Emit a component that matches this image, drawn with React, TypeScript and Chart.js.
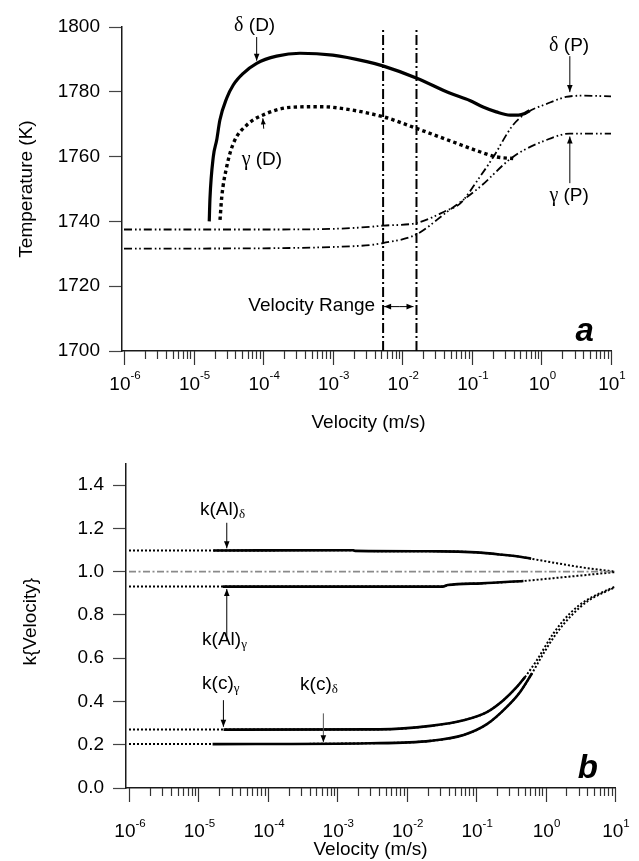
import React, { useEffect, useRef } from 'react';
import { Chart, registerables } from 'chart.js';

Chart.register(...registerables);

const SANS = '"Liberation Sans", Arial, Helvetica, sans-serif';
const SERIF = '"Liberation Serif", "Times New Roman", serif';

const W = 639;
const TOP_H = 436;
const BOT_H = 425;

// ---------- axis ticks ----------
const X_EXPONENTS = [-6, -5, -4, -3, -2, -1, 0, 1];
const X_MANTISSAS = [1, 2, 3, 4, 5, 6, 7, 8, 9];
const X_MAX = 10;
const TEMP_TICK_STEP = 20;
const K_TICK_STEP = 0.2;

// ---------- panel a : temperatures ----------
const deltaDVel = [1.68e-5, 1.72e-5, 1.92e-5, 2.15e-5, 2.39e-5, 2.99e-5, 3.72e-5, 5.18e-5, 8.07e-5, 1.56e-4, 3.38e-4, 1.0e-3, 3.09e-3, 5.25e-3, 1.62e-2, 4.79e-2, 9.33e-2, 0.145, 0.224, 0.355, 0.468, 0.575, 0.676];
const deltaDTemp = [1740, 1747, 1759.9, 1765.1, 1771.3, 1778, 1782.1, 1785.7, 1788.8, 1791, 1791.9, 1791.3, 1789.3, 1788, 1784.2, 1779.6, 1777.3, 1775.3, 1773.8, 1772.8, 1772.8, 1773.3, 1774.2];

const gammaDVel = [2.40e-5, 2.54e-5, 2.99e-5, 3.72e-5, 5.79e-5, 1.12e-4, 2.43e-4, 6.55e-4, 1.02e-3, 5.31e-3, 1.60e-2, 5.40e-2, 0.130, 0.226, 0.393];
const gammaDTemp = [1740.5, 1747.5, 1756.8, 1764, 1769.7, 1773.3, 1775.2, 1775.4, 1775.2, 1772.3, 1768.7, 1764.5, 1761.5, 1759.9, 1759.4];

const deltaPVel = [1e-6, 1e-4, 1e-3, 3.39e-3, 5.3e-3, 1.6e-2, 4.37e-2, 6.76e-2, 0.130, 0.204, 0.389, 0.646, 1.17, 2.24, 3.98, 10];
const deltaPTemp = [1737.5, 1737.5, 1737.7, 1738.3, 1738.7, 1739.5, 1743.4, 1745.5, 1753.7, 1759.9, 1769.7, 1773.8, 1776.2, 1778.4, 1778.8, 1778.6];

const gammaPVel = [1e-6, 1e-4, 1e-3, 3.4e-3, 5.3e-3, 1.6e-2, 4.37e-2, 0.130, 0.389, 1.17, 2.56, 10];
const gammaPTemp = [1731.6, 1731.7, 1732.1, 1732.7, 1733.3, 1736, 1742.9, 1750.6, 1759.9, 1765.1, 1767.1, 1767.1];

const rangeLow = 5.3e-3;
const rangeHigh = 1.6e-2;
const tempBounds = [1700, 1800];

// ---------- panel b : k{Velocity} ----------
const kAlDeltaVel = [1e-6, 1.64e-5, 1.7e-3, 1.8e-3, 3.0e-2, 0.1, 0.24, 0.45, 0.62, 1.46, 3.16, 7.6, 10];
const kAlDeltaVal = [1.098, 1.098, 1.099, 1.096, 1.094, 1.089, 1.078, 1.068, 1.06, 1.039, 1.021, 1.005, 1.0];
const kAlDeltaSolid = [1.64e-5, 0.62];

const kAlGammaVel = [1e-6, 2.24e-5, 3.3e-2, 3.9e-2, 0.12, 0.48, 1.3, 3.16, 10];
const kAlGammaVal = [0.931, 0.931, 0.931, 0.938, 0.946, 0.957, 0.97, 0.982, 0.998];
const kAlGammaSolid = [2.24e-5, 0.48];

const kcGammaVel = [1e-6, 2.3e-5, 4.1e-3, 2.2e-2, 6.6e-2, 0.143, 0.247, 0.386, 0.508, 0.75, 1.3, 2.26, 3.94, 10];
const kcGammaVal = [0.27, 0.27, 0.271, 0.287, 0.313, 0.351, 0.406, 0.467, 0.514, 0.591, 0.715, 0.808, 0.869, 0.931];
const kcGammaSolid = [2.3e-5, 0.508];

const kcDeltaVel = [1e-6, 1.6e-5, 3e-3, 2.2e-2, 6.6e-2, 0.143, 0.277, 0.43, 0.635, 0.85, 1.4, 2.4, 4.1, 10];
const kcDeltaVal = [0.203, 0.203, 0.207, 0.218, 0.245, 0.295, 0.375, 0.444, 0.529, 0.6, 0.71, 0.8, 0.865, 0.928];
const kcDeltaSolid = [1.6e-5, 0.635];

const unityVel = [1e-6, 10];
const unityVal = [1, 1];

// ---------- helpers ----------
const zip = (xs: number[], ys: number[]) => xs.map((x, i) => ({ x, y: ys[i] }));
const part = (xs: number[], ys: number[], r: number[]) => zip(xs, ys).filter((p) => p.x >= r[0] && p.x <= r[1]);

const line = (data: any[], extra: any = {}) => ({
  data,
  showLine: true,
  pointRadius: 0,
  pointHoverRadius: 0,
  borderColor: '#000',
  backgroundColor: '#000',
  fill: false,
  borderCapStyle: 'butt',
  borderJoinStyle: 'round',
  cubicInterpolationMode: 'monotone',
  ...extra,
});

type Part = { t: string; font: string; dy?: number };
function drawParts(ctx: CanvasRenderingContext2D, parts: Part[], x: number, y: number, align: 'left' | 'center' | 'right') {
  let w = 0;
  for (const p of parts) {
    ctx.font = p.font;
    w += ctx.measureText(p.t).width;
  }
  let cx = align === 'center' ? x - w / 2 : align === 'right' ? x - w : x;
  ctx.textAlign = 'left';
  ctx.textBaseline = 'alphabetic';
  for (const p of parts) {
    ctx.font = p.font;
    ctx.fillText(p.t, cx, y + (p.dy || 0));
    cx += ctx.measureText(p.t).width;
  }
}

function drawArrow(ctx: CanvasRenderingContext2D, x1: number, y1: number, x2: number, y2: number, head = 7, half = 2.8) {
  ctx.beginPath();
  ctx.moveTo(x1, y1);
  ctx.lineTo(x2, y2);
  ctx.stroke();
  const a = Math.atan2(y2 - y1, x2 - x1);
  ctx.beginPath();
  ctx.moveTo(x2, y2);
  ctx.lineTo(x2 - head * Math.cos(a) + half * Math.sin(a), y2 - head * Math.sin(a) - half * Math.cos(a));
  ctx.lineTo(x2 - head * Math.cos(a) - half * Math.sin(a), y2 - head * Math.sin(a) + half * Math.cos(a));
  ctx.closePath();
  ctx.fill();
}

function drawLogAxis(chart: any, numOffset: number, expDy: number) {
  const ctx: CanvasRenderingContext2D = chart.ctx;
  const xs = chart.scales.x;
  const yb = chart.chartArea.bottom;
  ctx.save();
  ctx.strokeStyle = '#333';
  ctx.lineWidth = 1.2;
  for (const e of X_EXPONENTS) {
    for (const m of X_MANTISSAS) {
      const v = m * Math.pow(10, e);
      if (v > X_MAX * 1.0001) continue;
      const px = Math.round(xs.getPixelForValue(v)) + 0.5;
      const len = m === 1 ? 14 : 8;
      ctx.beginPath();
      ctx.moveTo(px, yb);
      ctx.lineTo(px, yb + len);
      ctx.stroke();
    }
  }
  ctx.fillStyle = '#000';
  for (const e of X_EXPONENTS) {
    const px = xs.getPixelForValue(Math.pow(10, e));
    drawParts(ctx, [
      { t: '10', font: `19px ${SANS}` },
      { t: String(e), font: `11.5px ${SANS}`, dy: expDy },
    ], px + 1, yb + numOffset, 'center');
  }
  ctx.restore();
}

function drawYTitle(ctx: CanvasRenderingContext2D, text: string, x: number, y: number) {
  ctx.save();
  ctx.translate(x, y);
  ctx.rotate(-Math.PI / 2);
  ctx.font = `19px ${SANS}`;
  ctx.textAlign = 'center';
  ctx.textBaseline = 'middle';
  ctx.fillStyle = '#000';
  ctx.fillText(text, 0, 0);
  ctx.restore();
}

function drawXTitle(ctx: CanvasRenderingContext2D, text: string, x: number, y: number) {
  ctx.save();
  ctx.font = `19px ${SANS}`;
  ctx.textAlign = 'center';
  ctx.textBaseline = 'alphabetic';
  ctx.fillStyle = '#000';
  ctx.fillText(text, x, y);
  ctx.restore();
}

const F19 = `19px ${SANS}`;
const G19 = `20px ${SERIF}`;

const decorTop = {
  id: 'decorTop',
  afterDraw(chart: any) {
    const ctx: CanvasRenderingContext2D = chart.ctx;
    const X = (v: number) => chart.scales.x.getPixelForValue(v);
    const Y = (v: number) => chart.scales.y.getPixelForValue(v);
    const ca = chart.chartArea;
    drawLogAxis(chart, 39, -11.5);
    drawYTitle(ctx, 'Temperature (K)', 27, (ca.top + ca.bottom) / 2);
    drawXTitle(ctx, 'Velocity (m/s)', (ca.left + ca.right) / 2 + 2, 428);

    ctx.save();
    ctx.fillStyle = '#000';
    ctx.strokeStyle = '#000';
    ctx.lineWidth = 1;
    // delta (D)
    drawParts(ctx, [{ t: 'δ', font: G19 }, { t: ' (D)', font: F19 }], X(8.07e-5) - 2, Y(1798.8), 'center');
    drawArrow(ctx, X(8.07e-5), Y(1796.9), X(8.07e-5), Y(1789.6));
    // gamma (D)
    drawParts(ctx, [{ t: 'γ', font: G19 }, { t: ' (D)', font: F19 }], X(9.6e-5), Y(1757.3), 'center');
    drawArrow(ctx, X(1.02e-4), Y(1768.6), X(9.9e-5), Y(1771.8), 6, 2.5);
    // delta (P)
    drawParts(ctx, [{ t: 'δ', font: G19 }, { t: ' (P)', font: F19 }], X(2.5), Y(1792.6), 'center');
    drawArrow(ctx, X(2.56), Y(1791), X(2.56), Y(1779.9));
    // gamma (P)
    drawParts(ctx, [{ t: 'γ', font: G19 }, { t: ' (P)', font: F19 }], X(2.5), Y(1746.2), 'center');
    drawArrow(ctx, X(2.56), Y(1751.8), X(2.56), Y(1766.2));
    // velocity range
    drawParts(ctx, [{ t: 'Velocity Range', font: F19 }], X(rangeLow) - 8, Y(1712.4), 'right');
    const ya = Y(1713.7);
    const xm = (X(rangeLow) + X(rangeHigh)) / 2;
    drawArrow(ctx, xm, ya, X(rangeLow) + 1, ya, 7, 2.8);
    drawArrow(ctx, xm, ya, X(rangeHigh) - 3, ya, 7, 2.8);
    // panel letter
    ctx.font = `bold italic 33px ${SANS}`;
    ctx.textAlign = 'left';
    ctx.textBaseline = 'alphabetic';
    ctx.fillText('a', X(3.1), Y(1703.2));
    ctx.restore();
  },
};

const decorBot = {
  id: 'decorBot',
  afterDraw(chart: any) {
    const ctx: CanvasRenderingContext2D = chart.ctx;
    const X = (v: number) => chart.scales.x.getPixelForValue(v);
    const Y = (v: number) => chart.scales.y.getPixelForValue(v);
    const ca = chart.chartArea;
    drawLogAxis(chart, 49, -10.5);
    drawYTitle(ctx, 'k{Velocity}', 31, (ca.top + ca.bottom) / 2 - 4);
    drawXTitle(ctx, 'Velocity (m/s)', (ca.left + ca.right) / 2, 419);

    ctx.save();
    ctx.fillStyle = '#000';
    ctx.strokeStyle = '#000';
    ctx.lineWidth = 1;
    const sub = (g: string) => ({ t: g, font: `13px ${SERIF}`, dy: 3 });
    drawParts(ctx, [{ t: 'k(Al)', font: F19 }, sub('δ')], X(1.05e-5), Y(1.263), 'left');
    drawArrow(ctx, X(2.56e-5), Y(1.226), X(2.56e-5), Y(1.108));
    drawParts(ctx, [{ t: 'k(Al)', font: F19 }, sub('γ')], X(1.13e-5), Y(0.661), 'left');
    drawArrow(ctx, X(2.56e-5), Y(0.684), X(2.56e-5), Y(0.92));
    drawParts(ctx, [{ t: 'k(c)', font: F19 }, sub('γ')], X(1.13e-5), Y(0.457), 'left');
    drawArrow(ctx, X(2.29e-5), Y(0.406), X(2.29e-5), Y(0.283));
    drawParts(ctx, [{ t: 'k(c)', font: F19 }, sub('δ')], X(2.91e-4), Y(0.452), 'left');
    ctx.strokeStyle = '#555';
    drawArrow(ctx, X(6.3e-4), Y(0.345), X(6.3e-4), Y(0.212));
    ctx.font = `bold italic 33px ${SANS}`;
    ctx.textAlign = 'left';
    ctx.textBaseline = 'alphabetic';
    ctx.fillText('b', X(2.9), Y(0.044));
    ctx.restore();
  },
};

function options(p: any) {
  return {
    responsive: false,
    maintainAspectRatio: false,
    animation: false,
    devicePixelRatio: 1,
    events: [],
    layout: { padding: { left: 0, right: p.right, top: p.top, bottom: 0 } },
    plugins: { legend: { display: false }, tooltip: { enabled: false }, title: { display: false } },
    scales: {
      x: {
        type: 'logarithmic',
        position: 'bottom',
        min: p.xMin,
        max: X_MAX,
        grid: { display: false },
        ticks: { display: false },
        border: { display: true, color: '#1a1a1a', width: 1.5 },
        afterFit: (s: any) => { s.height = p.xHeight; },
      },
      y: {
        type: 'linear',
        position: 'left',
        min: p.yMin,
        max: p.yMax,
        grid: { display: true, drawOnChartArea: false, drawTicks: true, tickLength: 13, tickColor: '#444', tickWidth: 1.2 },
        border: { display: true, color: '#1a1a1a', width: 1.5 },
        ticks: {
          stepSize: p.step,
          padding: 9,
          color: '#000',
          autoSkip: false,
          font: { family: SANS, size: 19 },
          callback: (v: any) => p.fmt(Number(v)),
        },
        afterBuildTicks: (s: any) => { s.ticks = s.ticks.filter((t: any) => t.value <= p.tickMax + 1e-9); },
        afterFit: (s: any) => { s.width = p.yWidth; },
      },
    },
  };
}

function topConfig(): any {
  return {
    type: 'scatter',
    data: {
      datasets: [
        line(zip(deltaDVel, deltaDTemp), { borderWidth: 3.2 }),
        line(zip(gammaDVel, gammaDTemp), { borderWidth: 3.4, borderDash: [3.4, 3.2] }),
        line(zip(deltaPVel, deltaPTemp), { borderWidth: 1.8, borderDash: [8, 3, 1.6, 2.6, 1.6, 3] }),
        line(zip(gammaPVel, gammaPTemp), { borderWidth: 1.8, borderDash: [8, 3, 1.6, 2.6, 1.6, 3] }),
        line(zip([rangeLow, rangeLow], tempBounds), { borderWidth: 2, borderDash: [10, 3, 2, 3], cubicInterpolationMode: 'default', tension: 0 }),
        line(zip([rangeHigh, rangeHigh], tempBounds), { borderWidth: 2, borderDash: [10, 3, 2, 3], cubicInterpolationMode: 'default', tension: 0 }),
      ],
    },
    options: options({
      right: W - 611, top: 27, xHeight: TOP_H - 351, yWidth: 122, xMin: 9.36e-7,
      yMin: tempBounds[0], yMax: tempBounds[1], step: TEMP_TICK_STEP, tickMax: tempBounds[1],
      fmt: (v: number) => String(Math.round(v)),
    }),
    plugins: [decorTop],
  };
}

function botConfig(): any {
  const dotted = { borderWidth: 2, borderDash: [2, 2] };
  const solid = { borderWidth: 2.6 };
  return {
    type: 'scatter',
    data: {
      datasets: [
        line(zip(unityVel, unityVal), { borderWidth: 1.6, borderColor: '#8a8a8a', borderDash: [7, 2.5, 2, 2.5], cubicInterpolationMode: 'default', tension: 0 }),
        line(zip(kAlDeltaVel, kAlDeltaVal), dotted),
        line(part(kAlDeltaVel, kAlDeltaVal, kAlDeltaSolid), solid),
        line(zip(kAlGammaVel, kAlGammaVal), dotted),
        line(part(kAlGammaVel, kAlGammaVal, kAlGammaSolid), solid),
        line(zip(kcGammaVel, kcGammaVal), dotted),
        line(part(kcGammaVel, kcGammaVal, kcGammaSolid), solid),
        line(zip(kcDeltaVel, kcDeltaVal), dotted),
        line(part(kcDeltaVel, kcDeltaVal, kcDeltaSolid), solid),
      ],
    },
    options: options({
      right: W - 615, top: 27.5, xHeight: BOT_H - 352, yWidth: 126, xMin: 9.05e-7,
      yMin: 0, yMax: 1.5, step: K_TICK_STEP, tickMax: 1.4,
      fmt: (v: number) => v.toFixed(1),
    }),
    plugins: [decorBot],
  };
}

export default function App() {
  const topRef = useRef<HTMLCanvasElement>(null);
  const botRef = useRef<HTMLCanvasElement>(null);
  useEffect(() => {
    const c1 = new Chart(topRef.current as HTMLCanvasElement, topConfig());
    const c2 = new Chart(botRef.current as HTMLCanvasElement, botConfig());
    return () => {
      c1.destroy();
      c2.destroy();
    };
  }, []);
  return (
    <div style={{ position: 'absolute', left: 0, top: 0, width: W, height: 861, background: '#fff', overflow: 'hidden' }}>
      <canvas ref={topRef} width={W} height={TOP_H} style={{ position: 'absolute', left: 0, top: 0, width: W, height: TOP_H, display: 'block' }} />
      <canvas ref={botRef} width={W} height={BOT_H} style={{ position: 'absolute', left: 0, top: TOP_H, width: W, height: BOT_H, display: 'block' }} />
    </div>
  );
}
